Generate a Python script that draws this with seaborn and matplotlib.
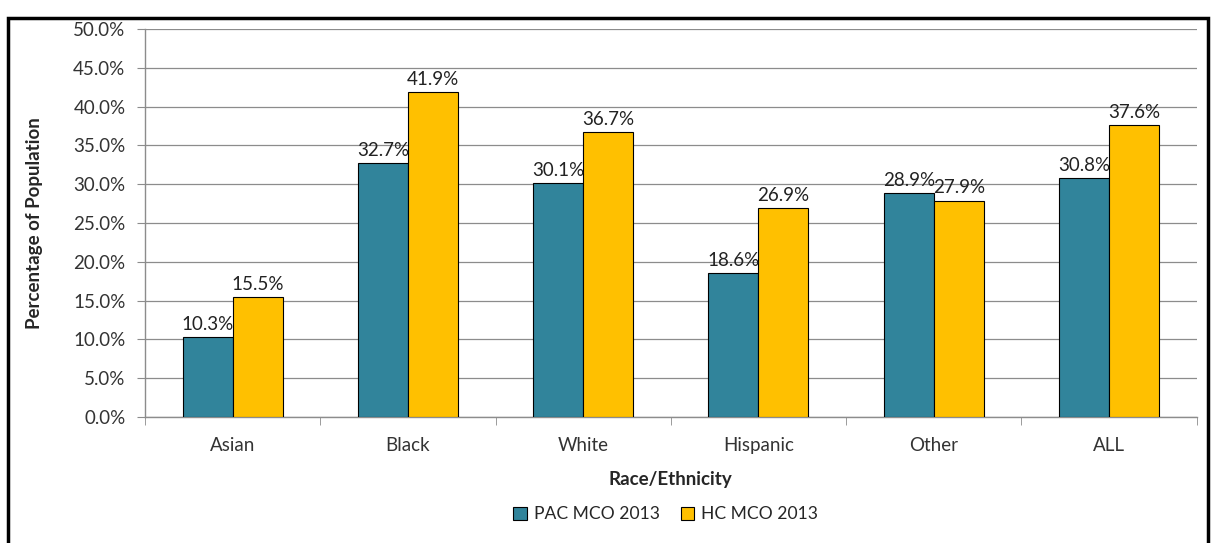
import matplotlib.pyplot as plt
import matplotlib.patches as mpatches
import pandas as pd
import seaborn as sns
from matplotlib.ticker import PercentFormatter

# Data
groups = ['Asian', 'Black', 'White', 'Hispanic', 'Other', 'ALL']
pac_mco = [10.3, 32.7, 30.1, 18.6, 28.9, 30.8]
hc_mco = [15.5, 41.9, 36.7, 26.9, 27.9, 37.6]
series = ['PAC MCO 2013', 'HC MCO 2013']
colors = ['#31849B', '#FFC000']

df = pd.DataFrame({
    'group': groups * 2,
    'value': pac_mco + hc_mco,
    'series': [series[0]] * len(groups) + [series[1]] * len(groups),
})

sns.set_style('white')
plt.rcParams['font.family'] = ['Lato', 'DejaVu Sans']
fs = 13.5

fig = plt.figure(figsize=(12.13, 5.43), dpi=100)
ax = fig.add_axes([0.1195, 0.232, 0.867, 0.7145])

sns.barplot(data=df, x='group', y='value', hue='series', palette=colors,
            saturation=1, width=0.57, edgecolor='black', linewidth=0.8,
            ax=ax, legend=True, zorder=3)

for cont in ax.containers:
    ax.bar_label(cont, labels=[f'{v:.1f}%' for v in cont.datavalues],
                 fontsize=fs, color='#222222', padding=3)

ax.set_ylim(0, 50)
ax.set_xlim(-0.5, len(groups) - 0.5)
ax.set_yticks(range(0, 51, 5))
ax.yaxis.set_major_formatter(PercentFormatter(decimals=1))
ax.grid(axis='y', color='#8c8c8c', linewidth=0.9, zorder=0)
ax.set_axisbelow(True)

for s in ['top', 'right']:
    ax.spines[s].set_visible(False)
for s in ['left', 'bottom']:
    ax.spines[s].set_color('#8c8c8c')
    ax.spines[s].set_linewidth(1)

ax.tick_params(axis='y', left=True, length=6, color='#8c8c8c', labelsize=fs,
               labelcolor='#333333', pad=8)
ax.tick_params(axis='x', bottom=False, labelsize=fs, labelcolor='#333333', pad=11)
ax.set_xticks(range(len(groups)), minor=False)
ax.set_xticks([i - 0.5 for i in range(len(groups) + 1)], minor=True)
ax.tick_params(axis='x', which='minor', bottom=True, length=6, color='#8c8c8c')

ax.set_xlabel('Race/Ethnicity', fontsize=fs, fontweight='bold', labelpad=12)
ax.set_ylabel('Percentage of Population', fontsize=fs, fontweight='bold', labelpad=22)

ax.legend(loc='upper center', bbox_to_anchor=(0.495, -0.19), ncol=2, frameon=False,
          fontsize=12.6, handlelength=0.75, handleheight=0.75, columnspacing=1.2,
          handletextpad=0.4)

# outer chart border
fig.patches.append(mpatches.Rectangle((8 / 1213, -0.1), 1200 / 1213, 1 - 18 / 543 + 0.1,
                                      transform=fig.transFigure, fill=False,
                                      edgecolor='black', linewidth=2.5))

fig.savefig('out.png', dpi=100)
